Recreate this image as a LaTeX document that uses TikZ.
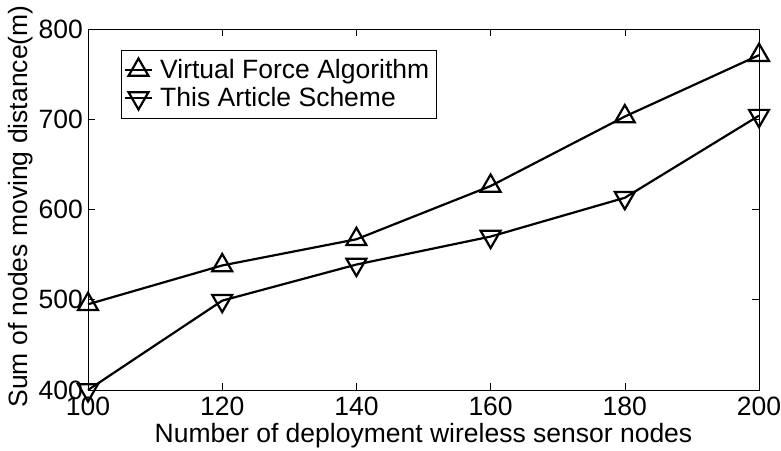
\documentclass[tikz,border=0pt]{standalone}
\usepackage{fontspec}
\setmainfont{Liberation Sans}
\usepackage{tikz}
\usetikzlibrary{shapes.geometric}
\newcommand{\courbecol}{black}
\newcommand{\axecol}{black}

\tikzset{
  triup/.style={regular polygon, regular polygon sides=3, draw=\courbecol,
    line width=2.2pt, minimum size=23pt, inner sep=0pt},
  tridown/.style={triup, shape border rotate=180},
  courbe/.style={draw=\courbecol, line width=2.2pt},
  graduation/.style={draw=\axecol, line width=0.6pt},
  texte/.style={font=\fontsize{26.5}{30}\selectfont, inner sep=0pt},
}

\begin{document}
\begin{tikzpicture}[x=1pt, y=1pt]
  \useasboundingbox (0,0) rectangle (781,450);

  \begin{scope}[x=6.71pt, y=0.9025pt, xshift=-583pt, yshift=-301pt]

    % cadre
    \draw[draw=\axecol, line width=0.8pt] (100,400) rectangle (200,800);

    \draw[graduation] (120,400) -- ++(0,7pt);
    \draw[graduation] (140,400) -- ++(0,7pt);
    \draw[graduation] (160,400) -- ++(0,7pt);
    \draw[graduation] (180,400) -- ++(0,7pt);
    \draw[graduation] (120,800) -- ++(0,-7pt);
    \draw[graduation] (140,800) -- ++(0,-7pt);
    \draw[graduation] (160,800) -- ++(0,-7pt);
    \draw[graduation] (180,800) -- ++(0,-7pt);
    \draw[graduation] (100,500) -- ++(7pt,0);
    \draw[graduation] (100,600) -- ++(7pt,0);
    \draw[graduation] (100,700) -- ++(7pt,0);
    \draw[graduation] (200,500) -- ++(-7pt,0);
    \draw[graduation] (200,600) -- ++(-7pt,0);
    \draw[graduation] (200,700) -- ++(-7pt,0);

    \node[texte, anchor=base, yshift=-25pt] (lx100) at (100,400) {100};
    \node[texte, anchor=base, yshift=-25pt] (lx120) at (120,400) {120};
    \node[texte, anchor=base, yshift=-25pt] (lx140) at (140,400) {140};
    \node[texte, anchor=base, yshift=-25pt] (lx160) at (160,400) {160};
    \node[texte, anchor=base, yshift=-25pt] (lx180) at (180,400) {180};
    \node[texte, anchor=base, yshift=-25pt] (lx200) at (200,400) {200};

    \node[texte, anchor=east, xshift=-5pt] (ly400) at (100,400) {400};
    \node[texte, anchor=east, xshift=-5pt] (ly500) at (100,500) {500};
    \node[texte, anchor=east, xshift=-5pt] (ly600) at (100,600) {600};
    \node[texte, anchor=east, xshift=-5pt] (ly700) at (100,700) {700};
    \node[texte, anchor=east, xshift=-5pt] (ly800) at (100,800) {800};

    \node[texte, anchor=base, yshift=-52pt] (titrex) at (150,400)
      {Number of deployment wireless sensor nodes};

    % courbe 1
    \node[triup] (vfa1) at (100,495) {};
    \node[triup] (vfa2) at (120,538) {};
    \node[triup] (vfa3) at (140,567) {};
    \node[triup] (vfa4) at (160,626) {};
    \node[triup] (vfa5) at (180,703) {};
    \node[triup] (vfa6) at (200,771) {};
    \draw[courbe] (vfa1.center) -- (vfa2.center) -- (vfa3.center)
      -- (vfa4.center) -- (vfa5.center) -- (vfa6.center);

    % courbe 2
    \node[tridown] (tas1) at (100,400) {};
    \node[tridown] (tas2) at (120,499) {};
    \node[tridown] (tas3) at (140,539) {};
    \node[tridown] (tas4) at (160,570) {};
    \node[tridown] (tas5) at (180,613) {};
    \node[tridown] (tas6) at (200,704) {};
    \draw[courbe] (tas1.center) -- (tas2.center) -- (tas3.center)
      -- (tas4.center) -- (tas5.center) -- (tas6.center);
  \end{scope}

  \node[texte, rotate=90, anchor=base] (titrey) at (27,243.5)
    {Sum of nodes moving distance(m)};

  % legende
  \draw[draw=\axecol, line width=0.8pt, fill=white] (121,332) rectangle (436,400);

  \coordinate (lg1a) at (125,380);
  \coordinate (lg1b) at (152,380);
  \node[triup] (lgvfa) at (138.5,380) {};
  \draw[courbe] (lg1a) -- (lg1b);
  \node[texte, anchor=base west] (txvfa) at (160,371) {Virtual Force Algorithm};

  \coordinate (lg2a) at (125,352);
  \coordinate (lg2b) at (152,352);
  \node[tridown] (lgtas) at (138.5,352) {};
  \draw[courbe] (lg2a) -- (lg2b);
  \node[texte, anchor=base west] (txtas) at (160,343) {This Article Scheme};

\end{tikzpicture}
\end{document}
